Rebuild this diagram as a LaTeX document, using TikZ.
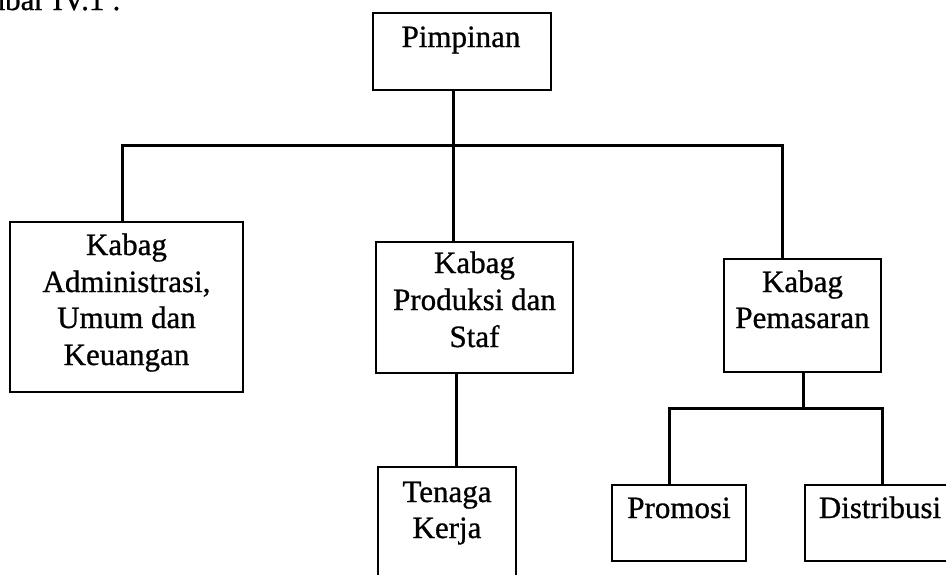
\documentclass[tikz,border=0pt]{standalone}
\usepackage{fontspec}
\setmainfont{Liberation Serif}
\newfontfamily\scanfont{Liberation Serif}[FakeBold=0.8]
\begin{document}
\begin{tikzpicture}[x=1pt,y=-1pt,
  box/.style={draw=black,line width=2pt,rectangle,inner sep=0pt},
  conn/.style={draw=black,line width=3pt},
  lbl/.style={anchor=base,inner sep=0pt,font=\scanfont\fontsize{31}{36}\selectfont}]
\useasboundingbox[fill=white] (0,0) rectangle (946,574);
% caption fragment
\node[anchor=base east,inner sep=0pt,font=\scanfont\fontsize{31}{36}\selectfont] (cap) at (121,10) {Gambar IV.1 :};
% boxes
\node[box,minimum width=178pt,minimum height=77pt] (pim) at (462,51.5) {};
\node[box,minimum width=233pt,minimum height=170pt] (adm) at (126.5,307) {};
\node[box,minimum width=197pt,minimum height=131pt] (prod) at (474.5,307.5) {};
\node[box,minimum width=138pt,minimum height=130pt] (ten) at (447,532) {};
\node[box,minimum width=157pt,minimum height=113pt] (pem) at (802.5,315.5) {};
\node[box,minimum width=134pt,minimum height=76pt] (pro) at (679,523) {};
\node[box,minimum width=152pt,minimum height=76pt] (dis) at (881,523) {};
% texts
\node[lbl] (tpim) at (461,47) {Pimpinan};
\node[lbl] (tadm1) at (126.5,255) {Kabag};
\node[lbl] (tadm2) at (126.5,292) {Administrasi,};
\node[lbl] (tadm3) at (126.5,328) {Umum dan};
\node[lbl] (tadm4) at (126.5,365) {Keuangan};
\node[lbl] (tprod1) at (474.5,273) {Kabag};
\node[lbl] (tprod2) at (474.5,310) {Produksi dan};
\node[lbl] (tprod3) at (474.5,347) {Staf};
\node[lbl] (tten1) at (447,502) {Tenaga};
\node[lbl] (tten2) at (447,538) {Kerja};
\node[lbl] (tpem1) at (802.5,292) {Kabag};
\node[lbl] (tpem2) at (802.5,328) {Pemasaran};
\node[lbl] (tpro) at (679,518) {Promosi};
\node[lbl] (tdis) at (880,518) {Distribusi};
% junctions
\coordinate (jl) at (122,145);
\coordinate (jm) at (453,145);
\coordinate (jr) at (782,145);
\coordinate (jt) at (456,0);
\coordinate (jp) at (803,408);
\coordinate (jpl) at (669,408);
\coordinate (jpr) at (882,408);
% connectors
\draw[conn] (pim.south -| jm) -- (jm) -- (prod.north -| jm);
\draw[conn] (adm.north -| jl) -- (jl) -- (jr) -- (pem.north -| jr);
\draw[conn] (prod.south -| jt) -- (ten.north -| jt);
\draw[conn] (pem.south -| jp) -- (jp);
\draw[conn] (pro.north -| jpl) -- (jpl) -- (jpr) -- (dis.north -| jpr);
\end{tikzpicture}
\end{document}
